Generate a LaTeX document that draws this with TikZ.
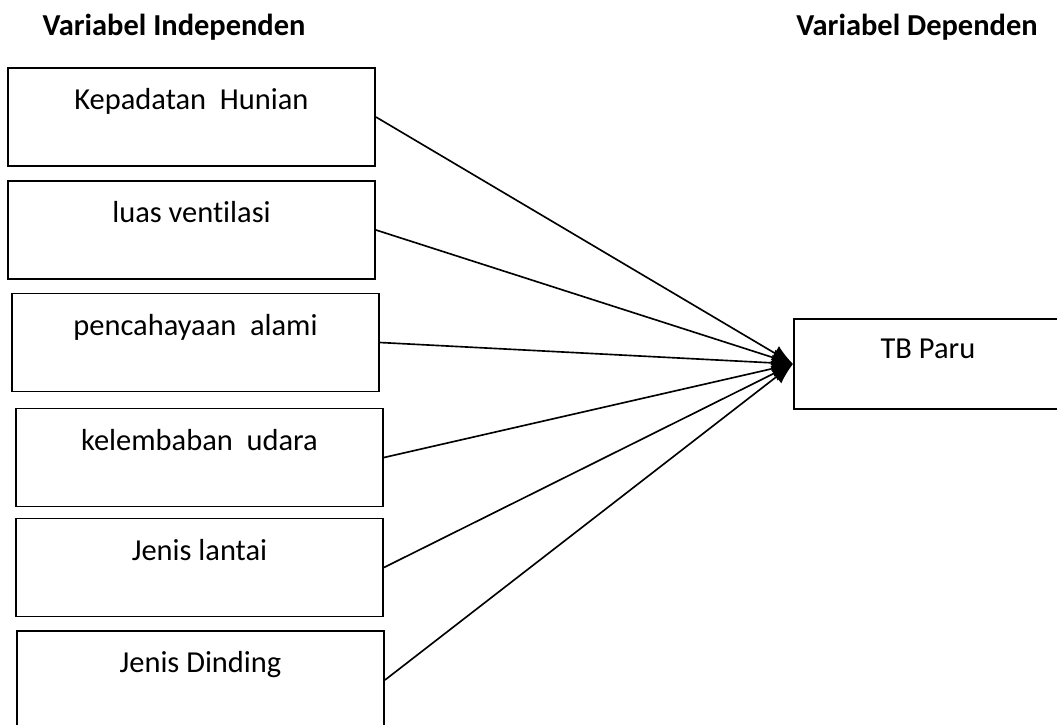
\documentclass[tikz,border=0pt]{standalone}
\usepackage{fontspec}
\setmainfont{Carlito}[Ligatures=NoCommon]
\usetikzlibrary{arrows.meta}

\tikzset{
  varbox/.style={draw, line width=.8pt, minimum width=5.505cm, minimum height=1.47cm,
    inner ysep=0pt, text height=17.8pt, text depth=24pt, font=\fontsize{13}{15}\selectfont},
  head/.style={font=\fontsize{13}{15}\selectfont\bfseries},
  link/.style={-{Latex[length=9pt,width=7pt]}, line width=.7pt}
}

\begin{document}
\begin{tikzpicture}[x=.015cm, y=-.015cm]
\clip (0,0) rectangle (1057,724);
\node[head] (hind) at (174,27) {Variabel Independen};
\node[head] (hdep) at (917,27) {Variabel Dependen};
\node[varbox] (hunian) at (191.5,117) {Kepadatan\ \ Hunian};
\node[varbox] (ventilasi) at (191.5,230) {luas ventilasi};
\node[varbox] (cahaya) at (195.5,342.5) {pencahayaan\ \ alami};
\node[varbox] (lembab) at (199.5,457.5) {kelembaban\ \ udara};
\node[varbox] (lantai) at (199.5,567.5) {Jenis lantai};
\node[varbox] (dinding) at (200.5,680) {Jenis Dinding};
\node[varbox, minimum width=4.02cm, minimum height=1.35cm, text height=16.9pt, text depth=21.5pt, anchor=north west] (tb) at (793,318) {TB Paru};
\draw[link] (hunian.east) -- (tb.west);
\draw[link] (ventilasi.east) -- (tb.west);
\draw[link] (cahaya.east) -- (tb.west);
\draw[link] (lembab.east) -- (tb.west);
\draw[link] (lantai.east) -- (tb.west);
\draw[link] (dinding.east) -- (tb.west);
\end{tikzpicture}
\end{document}
